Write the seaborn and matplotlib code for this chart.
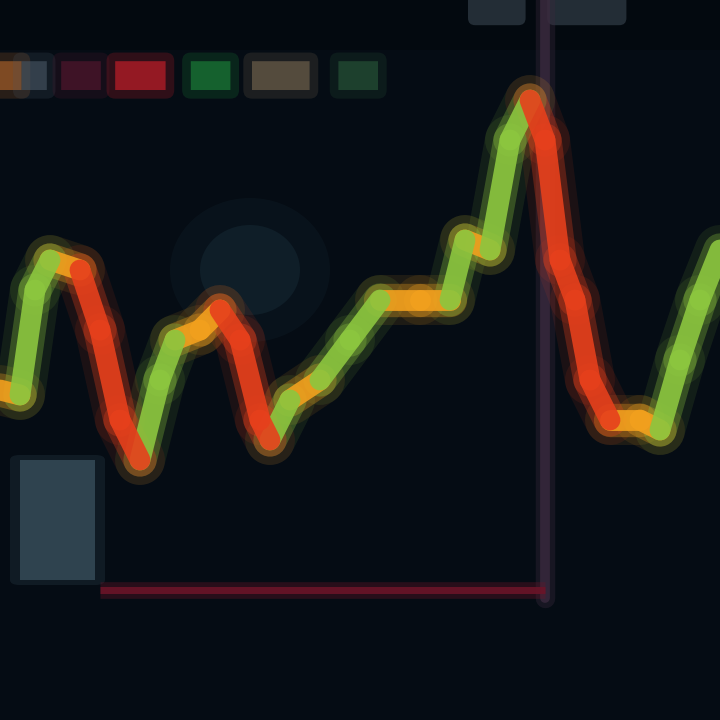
import numpy as np
import pandas as pd
import matplotlib.pyplot as plt
import seaborn as sns
from matplotlib.patches import Rectangle, Ellipse, FancyBboxPatch

# price trace (time in hours, price)
t = [0, 1, 1.75, 2.5, 4, 5, 6, 7, 8, 8.75, 10, 11, 12, 13, 13.5, 14.5, 16, 17.5,
     19, 21, 22.5, 23.25, 24.5, 25.5, 26.5, 27.25, 28, 28.75, 29.5, 30.5, 32, 33,
     34, 35, 36]
price = [33.0, 32.5, 43.0, 46.0, 45.0, 39.0, 30.0, 26.0, 34.0, 38.0, 39.0, 41.0,
         38.0, 30.0, 28.0, 32.0, 34.0, 38.0, 42.0, 42.0, 42.0, 48.0, 47.0, 58.0,
         62.0, 58.0, 46.0, 42.0, 34.0, 30.0, 30.0, 29.0, 36.0, 42.0, 47.0]

# colored ticker chips at the top (left, width in axes fraction)
chip_x = [0.0, 0.03, 0.085, 0.16, 0.265, 0.35, 0.47]
chip_w = [0.03, 0.035, 0.055, 0.07, 0.055, 0.08, 0.055]
chip_c = ['#b8692c', '#4a5866', '#5a1830', '#d8202c', '#1e8a3c', '#7a6a52', '#2a5a3a']

pal = {'up': '#8cc63f', 'flat': '#f2a01e', 'down': '#e6401c'}

# one row pair per segment, labelled by direction
rows = []
for i in range(len(t) - 1):
    slope = (price[i + 1] - price[i]) / (t[i + 1] - t[i])
    move = 'up' if slope > 2.5 else ('down' if slope < -2.5 else 'flat')
    rows.append({'t': t[i], 'price': price[i], 'seg': i, 'move': move})
    rows.append({'t': t[i + 1], 'price': price[i + 1], 'seg': i, 'move': move})
df = pd.DataFrame(rows)

sns.set_style('dark')
fig = plt.figure(figsize=(7.2, 7.2), dpi=100, facecolor='#050c14')
ax = fig.add_axes([0, 0, 1, 1])
ax.set_facecolor('#07121c')

# soft background shapes (stacked to fake the blur)
for k, a in [(1.6, 0.12), (1.0, 0.25)]:
    ax.add_patch(Ellipse((12.5, 45), 5 * k, 9 * k, color='#24434f', alpha=a, lw=0))
for pad, a in [(0.5, 0.15), (0.0, 0.45)]:
    ax.add_patch(FancyBboxPatch((1.0, 14), 3.75, 12, boxstyle=f'round,pad={pad}',
                                color='#557684', alpha=a, lw=0))
ax.add_patch(Rectangle((0, 67), 36, 6, color='#03080d', alpha=0.6, lw=0))
for x0, w, c in zip(chip_x, chip_w, chip_c):
    for pad, a in [(0.012, 0.2), (0.0, 0.6)]:
        ax.add_patch(FancyBboxPatch((x0, 0.875), w, 0.04, transform=ax.transAxes,
                                    boxstyle=f'round,pad={pad}', color=c,
                                    alpha=a, lw=0))
for x0, w in [(0.66, 0.06), (0.77, 0.09)]:
    ax.add_patch(FancyBboxPatch((x0, 0.975), w, 0.03, transform=ax.transAxes,
                                boxstyle='round,pad=0.01', color='#4c5a66',
                                alpha=0.45, lw=0))

# chart frame lines
ax.axvline(27.25, ymin=0.17, ymax=1, color='#3a2a3e', lw=14, alpha=0.35)
ax.axvline(27.25, ymin=0.17, ymax=1, color='#3a2a3e', lw=7, alpha=0.8)
ax.hlines(13, 5, 27.25, color='#6a1428', lw=12, alpha=0.35)
ax.hlines(13, 5, 27.25, color='#6a1428', lw=5, alpha=0.9)

# glowing price line
for lw, a in [(36, 0.1), (24, 0.3), (15, 0.9)]:
    sns.lineplot(data=df, x='t', y='price', hue='move', units='seg',
                 estimator=None, palette=pal, lw=lw, alpha=a, sort=False,
                 legend=False, ax=ax, solid_capstyle='round')

ax.set_xlim(0, 36)
ax.set_ylim(0, 72)
ax.axis('off')

fig.savefig('out.png', dpi=100, facecolor=fig.get_facecolor())
